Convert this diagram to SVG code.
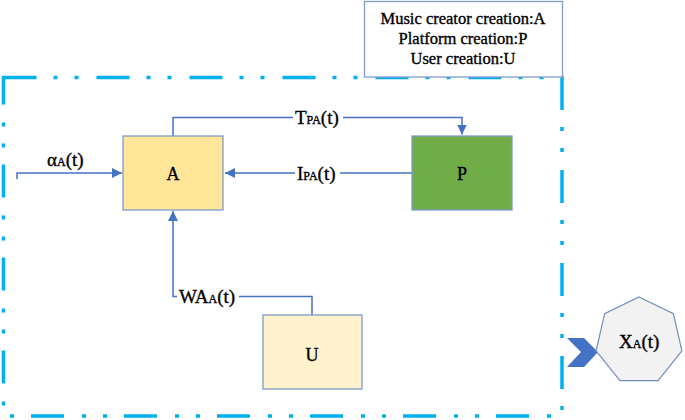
<svg xmlns="http://www.w3.org/2000/svg" width="685" height="420" viewBox="0 0 685 420">
  <defs>
    <marker id="arr" viewBox="0 0 10 10" refX="10" refY="5" markerWidth="10" markerHeight="10" markerUnits="userSpaceOnUse" orient="auto">
      <path d="M0,0 L10,5 L0,10 Z" fill="#4472C4"/>
    </marker>
    <style>
      .t{font-family:"Liberation Serif","Times New Roman",serif;fill:#000;stroke:#000;stroke-width:0.35}
      .lbl{font-size:19px}
      .sub{font-size:12px}
      .node{stroke:#7F9CCB;stroke-width:1.3}
      .conn{fill:none;stroke:#4472C4;stroke-width:1.5}
      .bg{fill:#fff}
    </style>
  </defs>
  <rect width="685" height="420" fill="#fff"/>

  <!-- dashed boundary -->
  <rect x="3.5" y="77.5" width="558.5" height="338.5" fill="none" stroke="#00B0F0" stroke-width="3.5" stroke-dasharray="33 17 4 17 4 18"/>

  <g id="legend">
    <rect x="364.5" y="1.5" width="198" height="75.5" fill="#fff" stroke="#7F9CCB" stroke-width="1.3"/>
    <text class="t" x="463" y="24" font-size="16.5" text-anchor="middle" stroke-width="0.25">Music creator creation:A</text>
    <text class="t" x="463" y="44" font-size="16.5" text-anchor="middle" stroke-width="0.25">Platform creation:P</text>
    <text class="t" x="463" y="64" font-size="16.5" text-anchor="middle" stroke-width="0.25">User creation:U</text>
  </g>

  <g id="connectors">
    <path class="conn" d="M173,136 V117.5 H462 V134.5" marker-end="url(#arr)"/>
    <path class="conn" d="M412,173 H225" marker-end="url(#arr)"/>
    <path class="conn" d="M17,179 V173 H122" marker-end="url(#arr)"/>
    <path class="conn" d="M312,315 V296.5 H173 V211" marker-end="url(#arr)"/>
    <rect class="bg" x="293" y="108" width="50" height="19"/>
    <rect class="bg" x="295" y="164" width="45" height="19"/>
    <rect class="bg" x="177" y="287" width="62" height="19"/>
    <text class="t lbl" x="295" y="124">T<tspan class="sub">PA</tspan>(t)</text>
    <text class="t lbl" x="297" y="180">I<tspan class="sub">PA</tspan>(t)</text>
    <text class="t lbl" x="47" y="166">α<tspan class="sub">A</tspan>(t)</text>
    <text class="t lbl" x="179" y="303">WA<tspan class="sub">A</tspan>(t)</text>
  </g>

  <g id="node-A">
    <rect class="node" x="123" y="136" width="100" height="74" fill="#FFE699"/>
    <text class="t" x="173" y="180" font-size="18" text-anchor="middle">A</text>
  </g>
  <g id="node-P">
    <rect class="node" x="412" y="136" width="100" height="74" fill="#70AD47"/>
    <text class="t" x="462" y="180" font-size="18" text-anchor="middle">P</text>
  </g>
  <g id="node-U">
    <rect class="node" x="263" y="315" width="99" height="74" fill="#FFF2CC"/>
    <text class="t" x="312" y="361" font-size="18" text-anchor="middle">U</text>
  </g>

  <g id="output-arrow">
    <path d="M567,338 L584,338 L598,352 L584,367 L567,367 L581,352 Z" fill="#4472C4"/>
  </g>
  <g id="node-X">
    <polygon points="639,297 673.4,313.6 681.9,350.8 658.1,380.6 619.9,380.6 596.1,350.8 604.6,313.6" fill="#F2F2F2" stroke="#6F8FC0" stroke-width="1.2"/>
    <text class="t lbl" x="619" y="348">X<tspan class="sub">A</tspan>(t)</text>
  </g>
</svg>
